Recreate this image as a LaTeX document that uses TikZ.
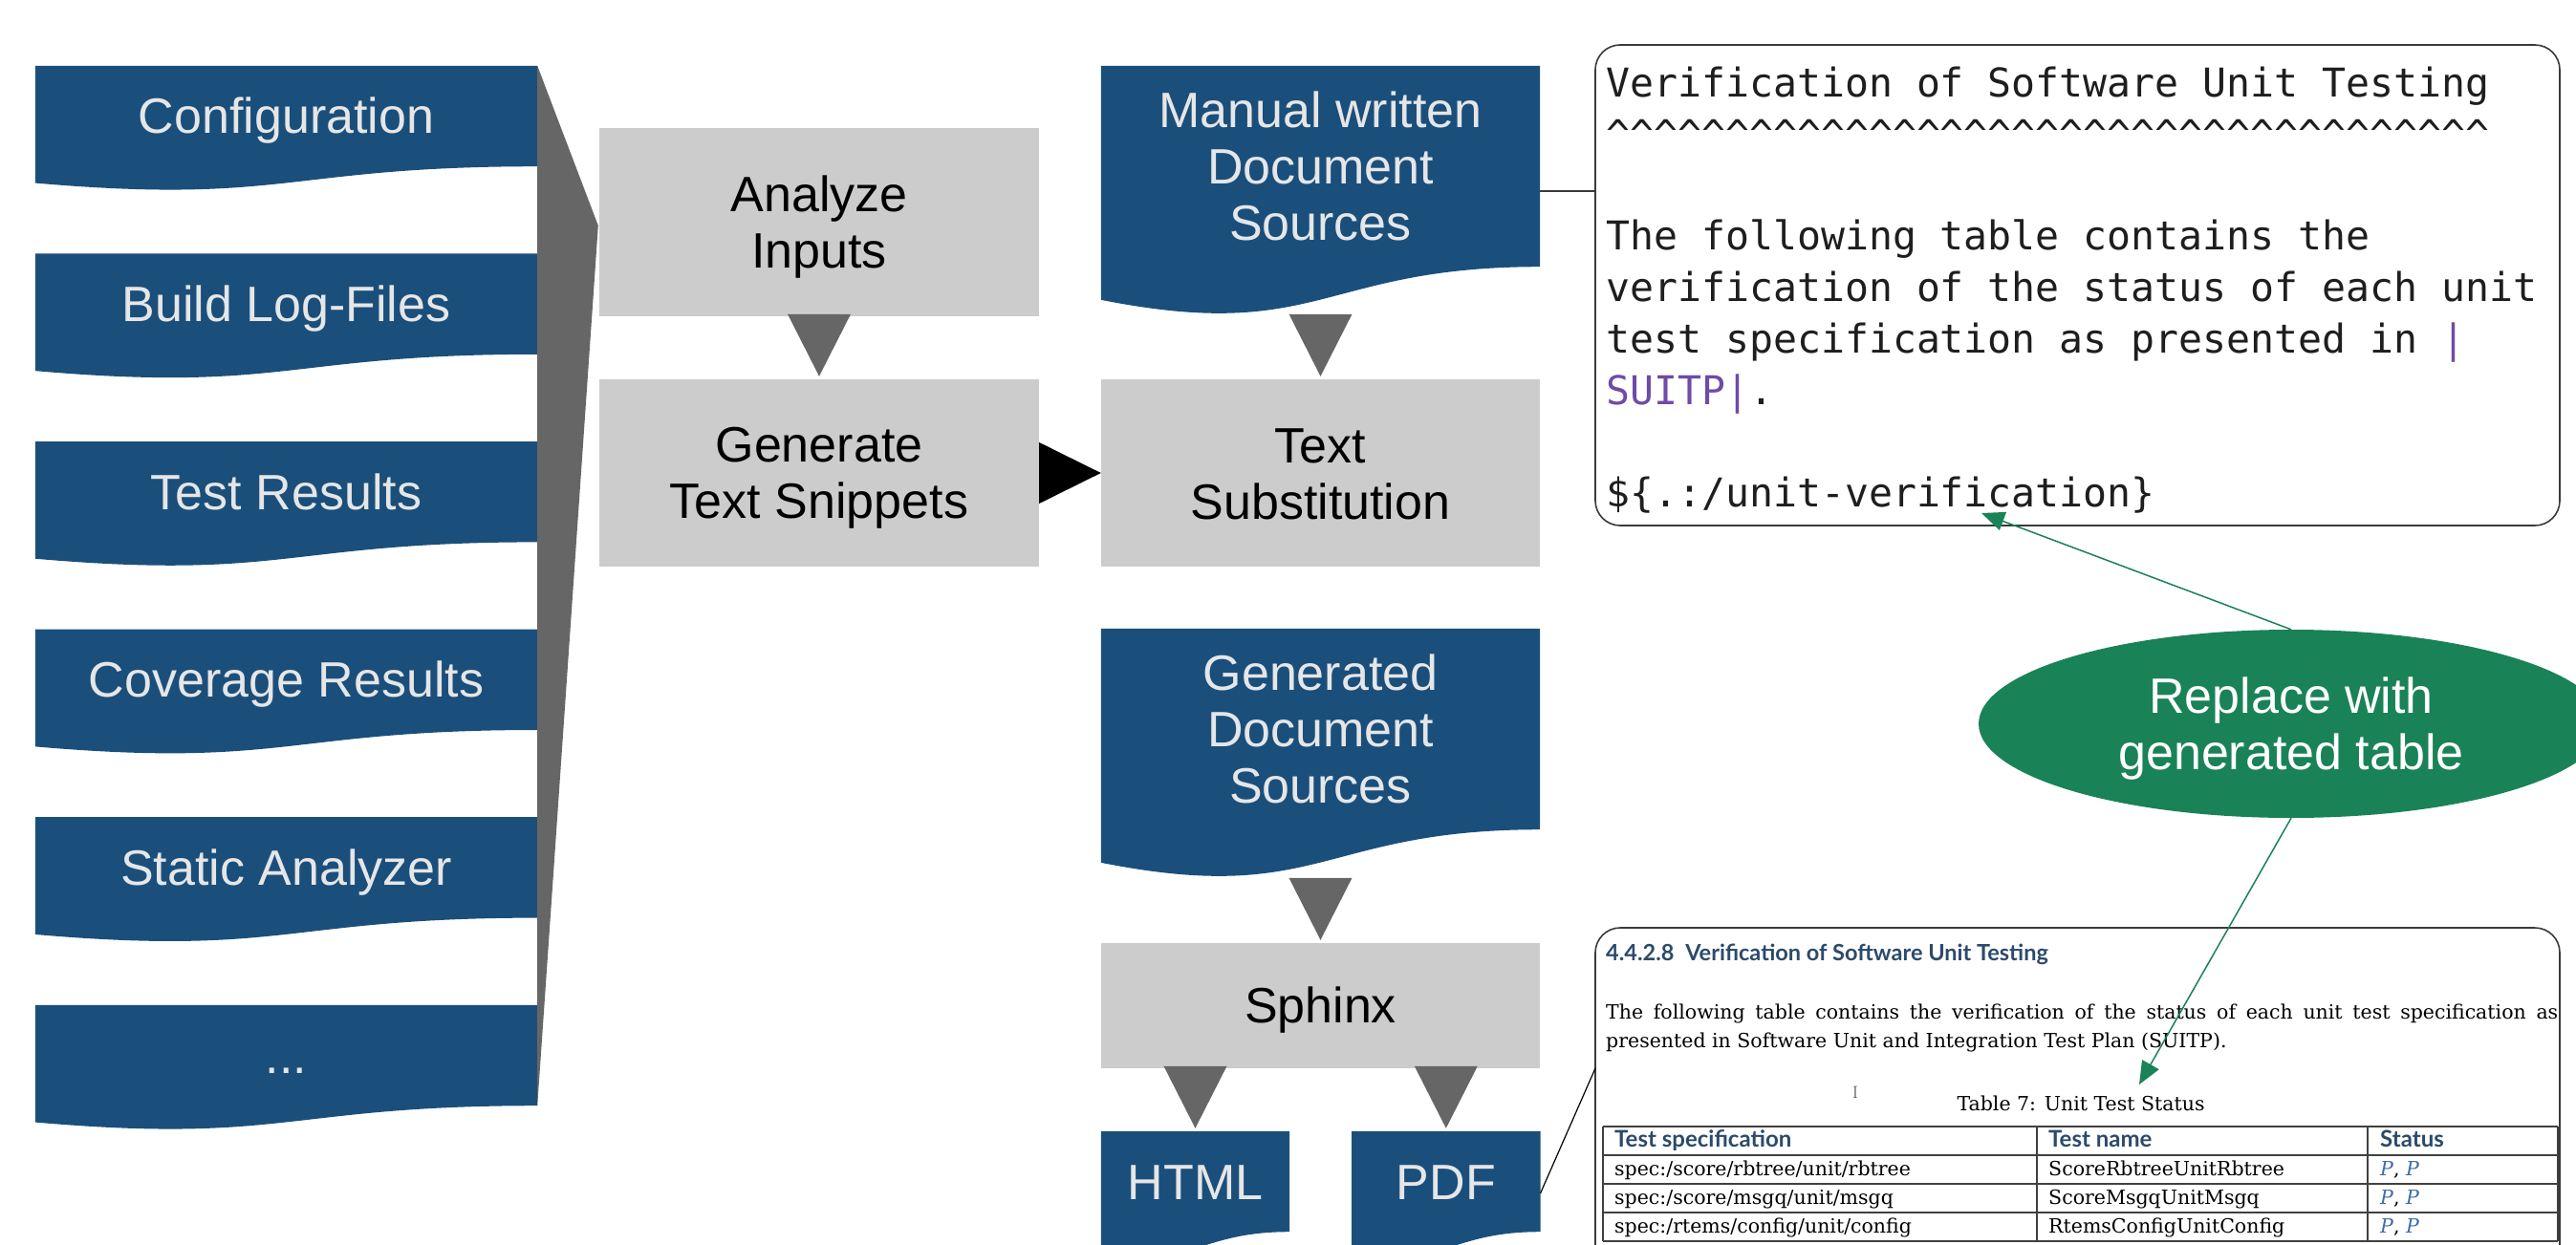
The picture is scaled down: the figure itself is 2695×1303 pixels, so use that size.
\documentclass[tikz,border=0pt]{standalone}
\usepackage{fontspec}
\setmainfont{Liberation Sans}
\newfontfamily\monof{DejaVu Sans Mono}
\newfontfamily\latof{Lato}
\newfontfamily\serf{DejaVu Serif}
\newfontfamily\lmr{Latin Modern Roman}
\usetikzlibrary{calc,shapes.geometric,backgrounds,arrows.meta}

\definecolor{docblue}{HTML}{1A4F7C}
\definecolor{doctext}{HTML}{E6E6E6}
\definecolor{procgrey}{HTML}{CCCCCC}
\definecolor{arrowgrey}{HTML}{666666}
\definecolor{callgreen}{HTML}{1A8257}
\definecolor{codepurple}{HTML}{6E4BA8}
\definecolor{headblue}{HTML}{2C4A6B}
\definecolor{linkblue}{HTML}{3C6EA6}
\definecolor{codetext}{HTML}{1E1E1E}
\definecolor{calloutline}{HTML}{3A3A3A}

\newcommand\bigfont{\fontsize{52}{59}\selectfont}
\newcommand\bs{\rule[-10pt]{0pt}{57pt}}
\newcommand\monofont{\monof\fontsize{41.5}{54}\selectfont}
\newcommand\headfont{\latof\bfseries\fontsize{23.5}{27}\selectfont}
\newcommand\thfont{\latof\bfseries\fontsize{24}{28}\selectfont}
\newcommand\bodyfont{\serf\fontsize{20.5}{25}\selectfont}
\newcommand\cc{\textasciicircum}
\newcommand\carets{\cc\cc\cc\cc\cc\cc\cc\cc\cc\cc\cc\cc\cc\cc\cc\cc\cc\cc\cc\cc\cc\cc\cc\cc\cc\cc\cc\cc\cc\cc\cc\cc\cc\cc\cc\cc\cc}

% document (wavy bottom) fill behind a named node
\newcommand\wavefill[1]{%
  \fill[docblue] (#1.north west) -- (#1.north east) -- (#1.south east)
    .. controls (#1.south) and ($(#1.south)!-0.381!(#1.north)$)
    .. ($(#1.south west)!-0.1646!(#1.north west)$) -- cycle;}
% grey triangle connector pointing at the top of a named node
\newcommand\garrow[2]{%
  \fill[arrowgrey] ($(#2.north)+(-33,-68)$) -- ($(#2.north)+(33,-68)$)
    -- ($(#2.north)+(0,-3)$) -- cycle;}

\begin{document}
\begin{tikzpicture}[x=1pt,y=-1pt,
  doc/.style={inner sep=0pt, text=doctext, font=\bigfont, align=center},
  proc/.style={fill=procgrey, inner sep=0pt, font=\bigfont, align=center},
  callout/.style={draw=calloutline, line width=1.6pt, rounded corners=26pt, inner sep=0pt},
  mono/.style={anchor=base west, inner sep=0pt, font=\monofont, text=codetext},
  body/.style={anchor=base west, inner sep=0pt, font=\bodyfont, text=black},
  th/.style={anchor=base west, inner sep=0pt, font=\thfont, text=headblue},
  greenarrow/.style={draw=callgreen, line width=1.5pt, -{Triangle[length=24pt,width=20pt]}},
  tableline/.style={draw=black!75, line width=1.4pt}]

\useasboundingbox (0,0) rectangle (2695,1303);

% ---------- left column: inputs ----------
\node[doc, minimum width=525pt, minimum height=105pt] (cfg)  at (299.5,121.5)  {\bs Configuration};
\node[doc, minimum width=525pt, minimum height=105pt] (blf)  at (299.5,318.1)  {\bs Build Log-Files};
\node[doc, minimum width=525pt, minimum height=105pt] (tres) at (299.5,514.7)  {\bs Test Results};
\node[doc, minimum width=525pt, minimum height=105pt] (cov)  at (299.5,711.3)  {\bs Coverage Results};
\node[doc, minimum width=525pt, minimum height=105pt] (sta)  at (299.5,907.9)  {\bs Static Analyzer};
\node[doc, minimum width=525pt, minimum height=105pt] (dots) at (299.5,1104.5) {\bs ...};

% ---------- process boxes ----------
\node[proc, minimum width=460pt, minimum height=197pt] (ana) at (857,232.5) {\bs Analyze\\\bs Inputs};
\node[proc, minimum width=460pt, minimum height=196pt] (gen) at (857,495) {\bs Generate\\\bs Text Snippets};
\node[doc, minimum width=459pt, minimum height=210pt] (man) at (1381.5,174) {\bs Manual written\\\bs Document\\\bs Sources};
\node[proc, minimum width=459pt, minimum height=196pt] (sub) at (1381.5,495) {\bs Text\\\bs Substitution};
\node[doc, minimum width=459pt, minimum height=210pt] (gds) at (1381.5,763) {\bs Generated\\\bs Document\\\bs Sources};
\node[proc, minimum width=459pt, minimum height=131pt] (sph) at (1381.5,1052.5) {\bs Sphinx};
\node[doc, minimum width=197pt, minimum height=105pt] (html) at (1250.5,1236.5) {\bs HTML};
\node[doc, minimum width=197pt, minimum height=105pt] (pdf) at (1512.8,1236.5) {\bs PDF};

\begin{scope}[on background layer]
  \wavefill{cfg}\wavefill{blf}\wavefill{tres}\wavefill{cov}\wavefill{sta}\wavefill{dots}
  \wavefill{man}\wavefill{gds}\wavefill{html}\wavefill{pdf}
\end{scope}

% funnel from inputs to Analyze
\fill[arrowgrey] (cfg.north east) -- ($(ana.west)+(-1,3.5)$) -- (dots.south east) -- cycle;

% triangle connectors
\garrow{ana}{gen}
\garrow{man}{sub}
\garrow{gds}{sph}
\garrow{sph}{html}
\garrow{sph}{pdf}
\fill[black] ($(gen.east)+(0,-32)$) -- ($(gen.east)+(0,32)$) -- (sub.west) -- cycle;

% ---------- callout A: source text ----------
\node[callout, minimum width=1009pt, minimum height=503pt] (callA) at (2173.5,298.5) {};
\node[mono] (a1) at (1680,102) {Verification of Software Unit Testing};
\node[mono] (a2) at (1680,156) {\carets};
\node[mono] (a3) at (1680,261) {The following table contains the};
\node[mono] (a4) at (1680,315) {verification of the status of each unit};
\node[mono] (a5) at (1680,369) {test specification as presented in \textcolor{codepurple}{\textbar}};
\node[mono] (a6) at (1680,423) {\textcolor{codepurple}{SUITP\textbar}.};
\node[mono] (a7) at (1680,530) {\$\{.:/unit-verification\}};

\coordinate (cA) at (1669,200);
\draw[draw=calloutline, line width=1.2pt] (man.east |- cA) -- (cA);

% ---------- callout B: generated PDF ----------
\node[callout, minimum width=1009pt, minimum height=370pt] (callB) at (2173.5,1156) {};
\node[anchor=base west, inner sep=0pt, font=\headfont, text=headblue] (hB) at (1680,1005)
  {4.4.2.8\hspace{0.5em}Verification of Software Unit Testing};
\node[body] (p1) at (1680,1066)
  {\makebox[996pt][s]{The following table contains the verification of the status of each unit test specification as}};
\node[body] (p2) at (1680,1096) {presented in Software Unit and Integration Test Plan (SUITP).};
\node[inner sep=0pt, font=\lmr\fontsize{18}{20}\selectfont, text=black!70] (cur) at (1941,1143) {I};
\node[anchor=base, inner sep=0pt, font=\bodyfont] (cap) at (2177,1162) {Table 7: Unit Test Status};

\foreach \yy in {1179,1209,1239,1269,1299} \draw[tableline] (1677,\yy) -- (2676,\yy);
\foreach \xx in {1677,2131,2477,2676} \draw[tableline] (\xx,1179) -- (\xx,1299);

\node[th] (h1) at (1689,1200) {Test specification};
\node[th] (h2) at (2143,1200) {Test name};
\node[th] (h3) at (2490,1200) {Status};
\node[body] (r11) at (1689,1230) {spec:/score/rbtree/unit/rbtree};
\node[body] (r12) at (2143,1230) {ScoreRbtreeUnitRbtree};
\node[body] (r13) at (2490,1230) {\textcolor{linkblue}{\itshape P}, \textcolor{linkblue}{\itshape P}};
\node[body] (r21) at (1689,1260) {spec:/score/msgq/unit/msgq};
\node[body] (r22) at (2143,1260) {ScoreMsgqUnitMsgq};
\node[body] (r23) at (2490,1260) {\textcolor{linkblue}{\itshape P}, \textcolor{linkblue}{\itshape P}};
\node[body] (r31) at (1689,1290) {spec:/rtems/config/unit/config};
\node[body] (r32) at (2143,1290) {RtemsConfigUnitConfig};
\node[body] (r33) at (2490,1290) {\textcolor{linkblue}{\itshape P}, \textcolor{linkblue}{\itshape P}};

\coordinate (cB) at (1669,1118);
\draw[draw=black, line width=1.2pt] ($(pdf.east)+(0,12.5)$) -- (cB);

% ---------- green annotation ----------
\node[ellipse, fill=callgreen, minimum width=654pt, minimum height=197pt, inner sep=0pt,
      text=white, font=\bigfont, align=center] (ell) at (2397,757.5) {\bs Replace with\\\bs generated table};
\coordinate (tA) at (2073,537);
\coordinate (tB) at (2238,1135);
\draw[greenarrow] (ell.north) -- (tA);
\draw[greenarrow] (ell.south) -- (tB);
\end{tikzpicture}
\end{document}
